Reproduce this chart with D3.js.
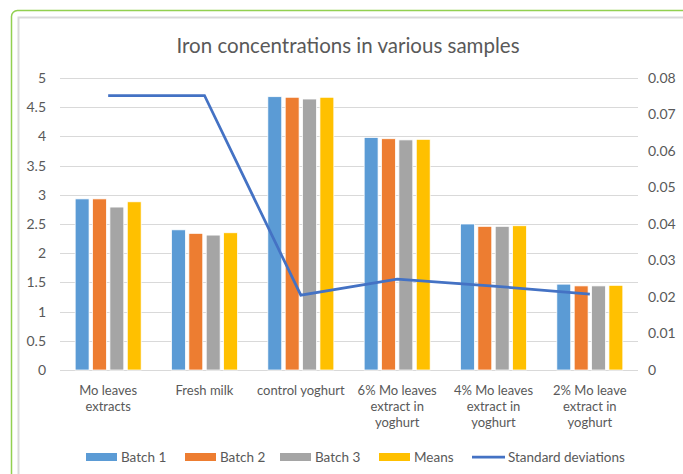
<!DOCTYPE html>
<html>
<head>
<meta charset="utf-8">
<script src="https://cdn.jsdelivr.net/npm/d3@7"></script>
<style>
	body { margin: 0; background: #fff; }
	text { font-family: Lato, "Open Sans", sans-serif; fill: #595959; }
</style>
</head>
<body>
<div id="chart"></div>
<script>
// 数据
const categories = [
	"Mo leaves\nextracts",
	"Fresh milk",
	"control yoghurt",
	"6% Mo leaves\nextract in\nyoghurt",
	"4% Mo leaves\nextract in\nyoghurt",
	"2% Mo leave\nextract in\nyoghurt"
];
const seriesNames = ["Batch 1", "Batch 2", "Batch 3", "Means"];
const batch1 = [2.93, 2.40, 4.68, 3.98, 2.50, 1.47];
const batch2 = [2.93, 2.34, 4.67, 3.96, 2.46, 1.44];
const batch3 = [2.79, 2.31, 4.64, 3.94, 2.46, 1.44];
const means = [2.88, 2.35, 4.67, 3.95, 2.47, 1.45];
const stdDevs = [0.0752, 0.0752, 0.0205, 0.0249, 0.0230, 0.0208];
const lineName = "Standard deviations";
const leftTicks = [0, 0.5, 1, 1.5, 2, 2.5, 3, 3.5, 4, 4.5, 5];
const rightTicks = [0, 0.01, 0.02, 0.03, 0.04, 0.05, 0.06, 0.07, 0.08];

const colors = ["#5B9BD5", "#ED7D31", "#A5A5A5", "#FFC000"];
const lineColor = "#4472C4";

const width = 683, height = 474;
const svg = d3.select("#chart").append("svg")
	.attr("width", width)
	.attr("height", height);

// 外框
svg.append("rect")
	.attr("x", 11.5).attr("y", 10.5)
	.attr("width", 720).attr("height", 520)
	.attr("rx", 6)
	.attr("fill", "none")
	.attr("stroke", "#92D050")
	.attr("stroke-width", 1.5);
svg.append("rect")
	.attr("x", 18.5).attr("y", 17.5)
	.attr("width", 720).attr("height", 520)
	.attr("fill", "none")
	.attr("stroke", "#D9D9D9")
	.attr("stroke-width", 2);

svg.append("text")
	.attr("x", 348).attr("y", 53)
	.attr("text-anchor", "middle")
	.style("font-size", "20.5px")
	.text("Iron concentrations in various samples");

const x0 = d3.scaleBand().domain(categories).range([60, 638])
	.paddingInner(0.315).paddingOuter(0.1575);
const x1 = d3.scaleBand().domain(seriesNames).range([0, x0.bandwidth()])
	.paddingInner(0.2);
const yL = d3.scaleLinear().domain([0, 5]).range([370, 78]);
const yR = d3.scaleLinear().domain([0, 0.08]).range([370, 78]);

// 网格线
svg.append("g").selectAll("line")
	.data(leftTicks)
	.join("line")
	.attr("x1", 60).attr("x2", 638)
	.attr("y1", d => Math.round(yL(d)) + 0.5)
	.attr("y2", d => Math.round(yL(d)) + 0.5)
	.attr("stroke", "#D9D9D9")
	.attr("stroke-width", 1);

const fmt = d => String(+d.toFixed(2));

const axisL = svg.append("g")
	.attr("transform", "translate(60,0)")
	.call(d3.axisLeft(yL).tickValues(leftTicks).tickSize(0).tickPadding(14).tickFormat(fmt));
const axisR = svg.append("g")
	.attr("transform", "translate(638,0)")
	.call(d3.axisRight(yR).tickValues(rightTicks).tickSize(0).tickPadding(10).tickFormat(fmt));
[axisL, axisR].forEach(a => {
	a.select(".domain").remove();
	a.selectAll("text")
		.attr("fill", "#595959")
		.style("font-size", "14px")
		.style("font-family", "Lato, 'Open Sans', sans-serif");
});

// 柱子
const seriesData = [batch1, batch2, batch3, means];
const groups = svg.append("g").selectAll("g")
	.data(categories)
	.join("g")
	.attr("transform", d => "translate(" + x0(d) + ",0)");

groups.selectAll("rect")
	.data((d, i) => seriesNames.map((s, j) => ({ s, j, v: seriesData[j][i] })))
	.join("rect")
	.attr("x", d => x1(d.s))
	.attr("width", x1.bandwidth())
	.attr("y", d => yL(d.v))
	.attr("height", d => yL(0) - yL(d.v))
	.attr("fill", d => colors[d.j])
	.attr("stroke", "#fff")
	.attr("stroke-width", 0.75);

// 标准差折线
const line = d3.line()
	.x((d, i) => x0(categories[i]) + x0.bandwidth() / 2)
	.y(d => yR(d));
svg.append("path")
	.datum(stdDevs)
	.attr("d", line)
	.attr("fill", "none")
	.attr("stroke", lineColor)
	.attr("stroke-width", 2.75);

// 分类标签
const catLabels = svg.append("g").selectAll("text")
	.data(categories)
	.join("text")
	.attr("text-anchor", "middle")
	.attr("x", d => x0(d) + x0.bandwidth() / 2)
	.attr("y", 395)
	.style("font-size", "13px");
catLabels.each(function (d) {
	const t = d3.select(this);
	d.split("\n").forEach((s, k) => {
		t.append("tspan")
			.attr("x", x0(d) + x0.bandwidth() / 2)
			.attr("y", 395 + k * 16)
			.text(s);
	});
});

// 图例
const legendX = [86, 185, 280, 379];
const legend = svg.append("g");
seriesNames.forEach((s, j) => {
	legend.append("rect")
		.attr("x", legendX[j]).attr("y", 453)
		.attr("width", 31).attr("height", 8)
		.attr("fill", colors[j]);
	legend.append("text")
		.attr("x", legendX[j] + 35).attr("y", 462)
		.style("font-size", "13.5px")
		.text(s);
});
legend.append("line")
	.attr("x1", 472).attr("x2", 505)
	.attr("y1", 457).attr("y2", 457)
	.attr("stroke", lineColor)
	.attr("stroke-width", 2.75);
legend.append("text")
	.attr("x", 508).attr("y", 462)
	.style("font-size", "13.5px")
	.text(lineName);
</script>
</body>
</html>
